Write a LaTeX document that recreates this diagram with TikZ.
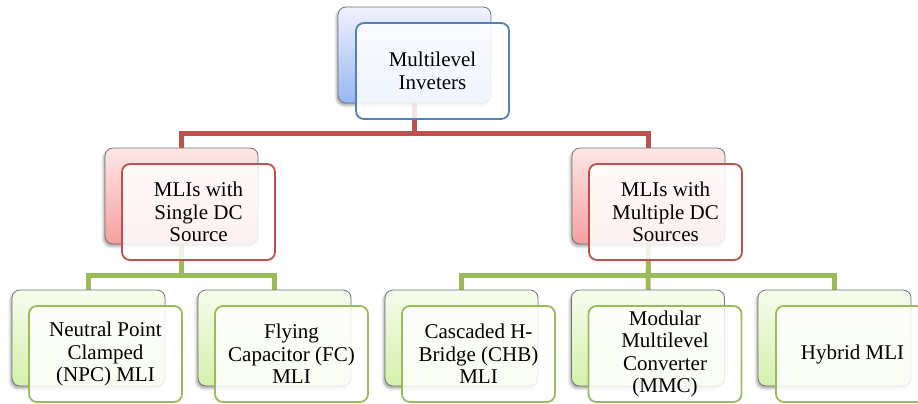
\documentclass[tikz,border=0pt]{standalone}
\usepackage{fontspec}
\setmainfont{Liberation Serif}
\usetikzlibrary{shadows.blur, backgrounds, positioning}
\definecolor{mliblue}{HTML}{4F81BD}
\definecolor{mlired}{HTML}{C0504D}
\definecolor{mligreen}{HTML}{9BBB59}
\tikzset{backbox/.style={draw=black!55,line width=0.8pt,rounded corners=8pt,minimum width=153pt,minimum height=96pt,
            blur shadow={shadow xshift=-1.5pt,shadow yshift=-2.5pt,shadow blur radius=2.5pt,shadow opacity=35}},
         frontbox/.style={draw,line width=1.8pt,rounded corners=8pt,minimum width=153pt,minimum height=96pt,
            fill=white,fill opacity=0.85,text opacity=1,align=center,inner sep=0pt,
            font=\fontsize{21}{22.5}\selectfont},
         blueback/.style={backbox,top color=blue!5!white,bottom color={rgb,255:red,150;green,182;blue,242}},
         redback/.style={backbox,top color={rgb,255:red,253;green,230;blue,230},bottom color={rgb,255:red,245;green,160;blue,160}},
         greenback/.style={backbox,top color={rgb,255:red,246;green,252;blue,236},bottom color={rgb,255:red,212;green,240;blue,172}},
         redlink/.style={draw=mlired,line width=5pt},
         greenlink/.style={draw=mligreen,line width=5pt}}

\begin{document}
\begin{tikzpicture}[x=1pt,y=-1pt]
        \useasboundingbox (0,0) rectangle (918,404);
        \coordinate (redbar) at (0,133);
        \coordinate (greenbar) at (0,275);

        \node[blueback](mliB)at(414.5,55){};
        \node[frontbox, draw=mliblue](mli)at(432.5,71){Multilevel\\Inveters};

        \node[redback](singleB)at(181.5,196){};
        \node[frontbox, draw=mlired](single)at(198.5,212){MLIs with\\Single DC\\Source};
        \node[redback](multiB)at(648.5,196){};
        \node[frontbox, draw=mlired](multi)at(665.5,212){MLIs with\\Multiple DC\\Sources};

        \node[greenback](npcB)at(88.5,338){};
        \node[frontbox, draw=mligreen](npc)at(105.5,354){Neutral Point\\Clamped\\(NPC) MLI};
        \node[greenback](fcB)at(274.5,338){};
        \node[frontbox, draw=mligreen](fc)at(291.5,354){Flying\\Capacitor (FC)\\MLI};
        \node[greenback](chbB)at(461.5,338){};
        \node[frontbox, draw=mligreen](chb)at(478.5,354){Cascaded H-\\Bridge (CHB)\\MLI};
        \node[greenback](mmcB)at(648,338){};
        \node[frontbox, draw=mligreen](mmc)at(665,354){Modular\\Multilevel\\Converter\\(MMC)};
        \node[greenback](hybB)at(834.5,338){};
        \node[frontbox, draw=mligreen](hyb)at(852.5,354){Hybrid MLI};

        \begin{pgfonlayer}{background}
        \draw[redlink](mliB.center)|-(redbar -| singleB.center)--(singleB.center);
        \draw[redlink](mliB.center)|-(redbar -| multiB.center)--(multiB.center);

        \draw[greenlink](singleB.center)|-(greenbar -| npcB.center)--(npcB.center);
        \draw[greenlink](singleB.center)|-(greenbar -| fcB.center)--(fcB.center);
        \draw[greenlink](multiB.center)|-(greenbar -| chbB.center)--(chbB.center);
        \draw[greenlink](multiB.center)--(mmcB.center);
        \draw[greenlink](multiB.center)|-(greenbar -| hybB.center)--(hybB.center);
        \end{pgfonlayer}
    \end{tikzpicture}
\end{document}
